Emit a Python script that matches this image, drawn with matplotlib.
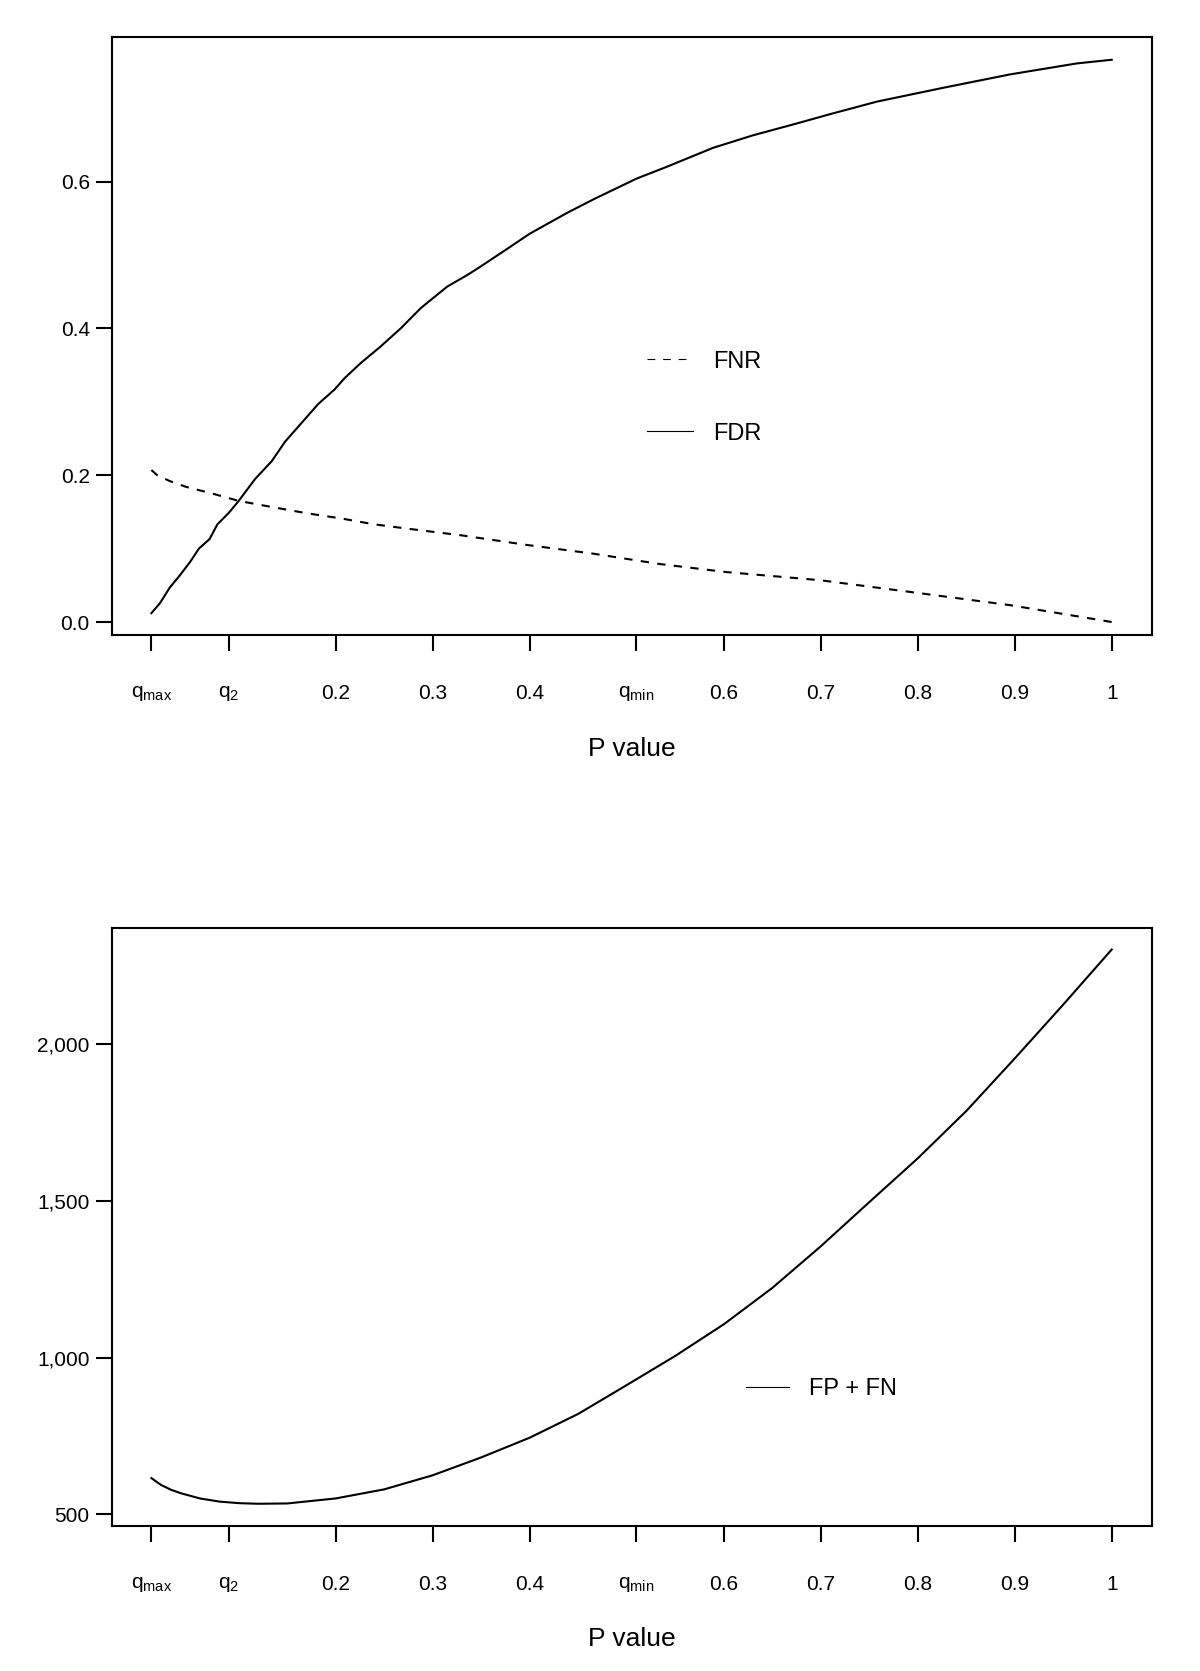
import matplotlib
matplotlib.use('Agg')
import matplotlib.pyplot as plt

plt.rcParams['font.family'] = ['Liberation Sans', 'DejaVu Sans']
plt.rcParams['mathtext.fontset'] = 'custom'
plt.rcParams['mathtext.rm'] = 'Liberation Sans'

# x tick positions / labels (shared by both panels)
tick_pos = [0.01, 0.09, 0.2, 0.3, 0.4, 0.51, 0.6, 0.7, 0.8, 0.9, 1.0]
tick_lab = [r'$\mathregular{q_{max}}$', r'$\mathregular{q_2}$', '0.2', '0.3', '0.4',
            r'$\mathregular{q_{min}}$', '0.6', '0.7', '0.8', '0.9', '1']

# top panel: FDR (solid)
p_fdr = [0.01, 0.019, 0.029, 0.039, 0.05, 0.059, 0.07, 0.078, 0.09, 0.1,
         0.117, 0.134, 0.148, 0.168, 0.182, 0.199, 0.209, 0.226, 0.246, 0.267,
         0.288, 0.315, 0.336, 0.349, 0.373, 0.4, 0.438, 0.466, 0.51, 0.541,
         0.589, 0.63, 0.672, 0.71, 0.758, 0.827, 0.895, 0.964, 1.0]
fdr = [0.012, 0.026, 0.047, 0.063, 0.082, 0.1, 0.113, 0.133, 0.149, 0.165,
       0.195, 0.219, 0.246, 0.276, 0.297, 0.317, 0.332, 0.353, 0.375, 0.4,
       0.428, 0.457, 0.473, 0.484, 0.505, 0.529, 0.557, 0.576, 0.604, 0.62,
       0.646, 0.663, 0.678, 0.692, 0.709, 0.728, 0.746, 0.761, 0.766]

# top panel: FNR (dashed)
p_fnr = [0.01, 0.016, 0.029, 0.046, 0.07, 0.1, 0.137, 0.171, 0.206, 0.24,
         0.275, 0.33, 0.397, 0.466, 0.534, 0.603, 0.699, 0.792, 0.895, 1.0]
fnr = [0.207, 0.2, 0.192, 0.184, 0.176, 0.165, 0.156, 0.148, 0.141, 0.133,
       0.127, 0.118, 0.105, 0.093, 0.079, 0.068, 0.057, 0.041, 0.023, 0.0]

# bottom panel: FP + FN
p_err = [0.01, 0.02, 0.03, 0.04, 0.06, 0.08, 0.1, 0.12, 0.15, 0.2, 0.25, 0.3, 0.35,
         0.4, 0.45, 0.5, 0.55, 0.6, 0.65, 0.7, 0.75, 0.8, 0.85, 0.9, 0.95, 1.0]
err = [615, 593, 578, 567, 550, 540, 535, 533, 534, 550, 579, 624, 681,
       744, 820, 912, 1005, 1106, 1222, 1355, 1496, 1636, 1787, 1955, 2127, 2303]

W, H = 1200, 1671
fig = plt.figure(figsize=(W / 100, H / 100), dpi=100)

def style(ax, ylo, yhi, yticks, ylabels, top_px, bot_px):
	ax.set_xlim(-0.0306, 1.0415)
	ax.set_ylim(ylo, yhi)
	for s in ax.spines.values():
		s.set_linewidth(1.5)
	ax.set_xticks(tick_pos)
	ax.set_xticklabels(tick_lab)
	ax.set_yticks(yticks)
	ax.set_yticklabels(ylabels)
	ax.tick_params(axis='both', direction='out', length=11.5, width=1.5, labelsize=15)
	ax.tick_params(axis='x', pad=24)
	ax.tick_params(axis='y', pad=4.5)
	ax.set_xlabel('P value', fontsize=19, va='center')
	ax.xaxis.set_label_coords(0.5, -114 / (bot_px - top_px))

def thin_legend(leg, dashed=False):
	for ln in leg.get_lines():
		ln.set_linewidth(0.8)
		if dashed and ln.get_label() == 'FNR':
			ln.set_linestyle((0, (7, 7)))

# top panel
ax1 = fig.add_axes([112 / W, 1 - 635 / H, 1040 / W, (635 - 37) / H])
ax1.plot(p_fnr, fnr, color='black', lw=1.5, ls=(0, (4, 4)), label='FNR')
ax1.plot(p_fdr, fdr, color='black', lw=1.5, label='FDR')
style(ax1, -0.0177, 0.797, [0.0, 0.2, 0.4, 0.6], ['0.0', '0.2', '0.4', '0.6'], 37, 635)
leg1 = ax1.legend(frameon=False, loc='center left', bbox_to_anchor=(0.514, 0.397),
                  fontsize=17, handlelength=1.95, handletextpad=0.88,
                  labelspacing=2.12, borderpad=0, borderaxespad=0)
thin_legend(leg1, dashed=True)

# bottom panel
ax2 = fig.add_axes([112 / W, 1 - 1525.5 / H, 1040 / W, (1525.5 - 928.5) / H])
ax2.plot(p_err, err, color='black', lw=1.5, label='FP + FN')
style(ax2, 463.6, 2370, [500, 1000, 1500, 2000], ['500', '1,000', '1,500', '2,000'], 928.5, 1525.5)
leg2 = ax2.legend(frameon=False, loc='center left', bbox_to_anchor=(0.61, 0.228),
                  fontsize=17, handlelength=1.8, handletextpad=0.85,
                  borderpad=0, borderaxespad=0)
thin_legend(leg2)

fig.savefig('out.png', dpi=100)
